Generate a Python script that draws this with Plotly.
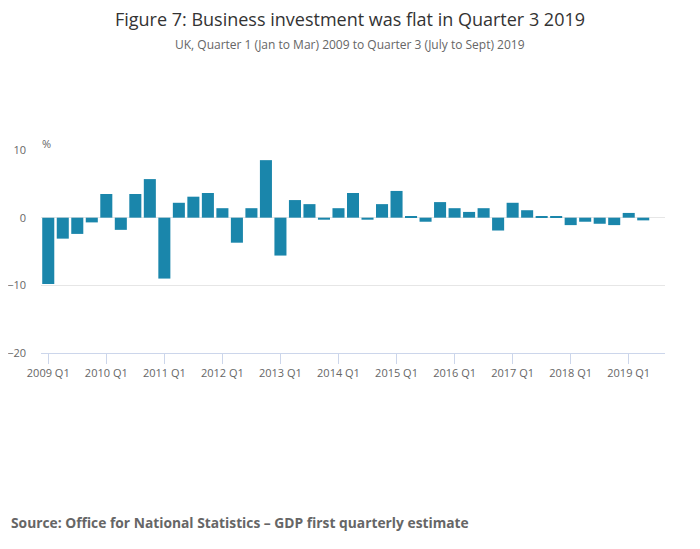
import plotly.graph_objects as go

quarters = [f"{y} Q{q}" for y in range(2009, 2020) for q in range(1, 5)][:43]
values = [-9.8, -3.1, -2.4, -0.7,
          3.5, -1.8, 3.5, 5.7,
          -9.0, 2.2, 3.1, 3.65,
          1.4, -3.7, 1.4, 8.5,
          -5.6, 2.6, 2.0, -0.3,
          1.4, 3.65, -0.3, 2.0,
          3.95, 0.25, -0.6, 2.3,
          1.4, 0.85, 1.4, -1.9,
          2.2, 1.1, 0.1, 0.1,
          -1.1, -0.6, -0.9, -1.1,
          0.7, -0.4, 0.0]
tick_labels = [f"{y} Q1" for y in range(2009, 2020)]
y_ticks = [-20, -10, 0, 10]

title = "Figure 7: Business investment was flat in Quarter 3 2019"
subtitle = "UK, Quarter 1 (Jan to Mar) 2009 to Quarter 3 (July to Sept) 2019"
source = "Source: Office for National Statistics – GDP first quarterly estimate"

OFF = 8  # page body margin
W, H = 700 - OFF, 549 - OFF
l, r, t, b = 41 - OFF, 35, 150 - OFF, 196
pw, ph = W - l - r, H - t - b

def px(x):
    return (x - OFF - l) / pw

def py(y):
    return (H - b - (y - OFF)) / ph

fig = go.Figure(go.Bar(x=quarters, y=values, marker_color="#1a86ab",
                       marker_line_width=0))

fig.update_layout(
    width=W, height=H,
    margin=dict(l=l, r=r, t=t, b=b, autoexpand=False),
    paper_bgcolor="white", plot_bgcolor="white",
    bargap=0.17,
    showlegend=False,
    font=dict(family="Open Sans", color="#666666"),
    title=dict(text=title, x=(350 - OFF) / W, xref="container", xanchor="center",
               y=1 - (20 - OFF) / H, yref="container", yanchor="middle",
               font=dict(size=18, color="#333333")),
    xaxis=dict(type="category", tickmode="array", tickvals=tick_labels,
               ticktext=tick_labels, ticks="outside", ticklen=10,
               tickcolor="#ccd6eb", showline=True, linecolor="#ccd6eb",
               linewidth=1, showgrid=False, tickfont=dict(size=11, color="#666666"),
               range=[-0.5, 42.5], automargin=False),
    yaxis=dict(range=[-20, 10], tickvals=y_ticks, showgrid=True,
               gridcolor="#e6e6e6", zeroline=False, automargin=False,
               tickfont=dict(size=11, color="#666666"), ticklabelstandoff=14),
    annotations=[
        dict(text=subtitle, x=px(350), y=py(44), xref="paper", yref="paper", showarrow=False,
             font=dict(size=12, color="#666666"), xanchor="center", yanchor="middle"),
        dict(text="%", x=px(40), y=py(143), xref="paper", yref="paper", showarrow=False,
             font=dict(size=11, color="#666666"), xanchor="left", yanchor="middle"),
        dict(text="<b>" + source + "</b>", x=px(9), y=py(522), xref="paper", yref="paper",
             showarrow=False, font=dict(size=13.8, color="#666666"),
             xanchor="left", yanchor="middle"),
    ],
)

fig.write_html("out.html")
